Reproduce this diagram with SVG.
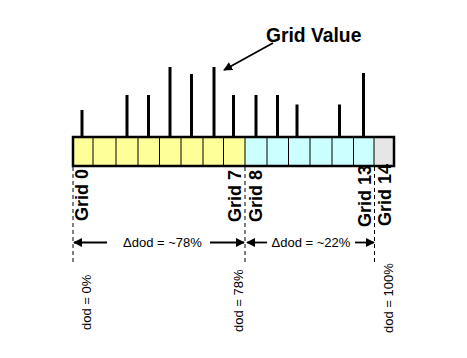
<svg xmlns="http://www.w3.org/2000/svg" width="467" height="358" viewBox="0 0 467 358">
<defs>
<style>
.bold{font-family:"Liberation Sans",Arial,sans-serif;font-weight:bold;font-size:18px;fill:#000}
.norm{font-family:"Liberation Sans",Arial,sans-serif;font-size:13px;fill:#000}
.spike{stroke:#000;stroke-width:3}
.cell{stroke:#000;stroke-width:1}
.dash{stroke:#000;stroke-width:1;stroke-dasharray:4 3;fill:none}
.arr{stroke:#000;stroke-width:1.8;fill:none}
</style>
<marker id="ah" viewBox="0 0 10 10" refX="9" refY="5" markerWidth="5" markerHeight="5" orient="auto" markerUnits="strokeWidth">
<path d="M0,0 L10,5 L0,10 z" fill="#000"/>
</marker>
</defs>
<rect width="467" height="358" fill="#fff"/>
<g id="spikes">
<line class="spike" x1="82" y1="110" x2="82" y2="137"/>
<line class="spike" x1="127" y1="95" x2="127" y2="137"/>
<line class="spike" x1="148.5" y1="95" x2="148.5" y2="137"/>
<line class="spike" x1="170" y1="67" x2="170" y2="137"/>
<line class="spike" x1="191.5" y1="74" x2="191.5" y2="137"/>
<line class="spike" x1="214" y1="67" x2="214" y2="137"/>
<line class="spike" x1="233.5" y1="95" x2="233.5" y2="137"/>
<line class="spike" x1="256" y1="95" x2="256" y2="137"/>
<line class="spike" x1="277.5" y1="95" x2="277.5" y2="137"/>
<line class="spike" x1="297" y1="104.5" x2="297" y2="137"/>
<line class="spike" x1="339.5" y1="104.5" x2="339.5" y2="137"/>
<line class="spike" x1="363.5" y1="73" x2="363.5" y2="137"/>
</g>
<g id="bar">
<rect x="73" y="137" width="172" height="29" fill="#FFFF99"/>
<rect x="245" y="137" width="129" height="29" fill="#CCFFFF"/>
<rect x="374" y="137" width="20" height="29" fill="#E6E6E6"/>
<g class="cell">
<line x1="93" y1="137" x2="93" y2="166"/>
<line x1="116" y1="137" x2="116" y2="166"/>
<line x1="138" y1="137" x2="138" y2="166"/>
<line x1="159.5" y1="137" x2="159.5" y2="166"/>
<line x1="181" y1="137" x2="181" y2="166"/>
<line x1="203" y1="137" x2="203" y2="166"/>
<line x1="223.5" y1="137" x2="223.5" y2="166"/>
<line x1="245" y1="137" x2="245" y2="166"/>
<line x1="267" y1="137" x2="267" y2="166"/>
<line x1="288.5" y1="137" x2="288.5" y2="166"/>
<line x1="310" y1="137" x2="310" y2="166"/>
<line x1="332" y1="137" x2="332" y2="166"/>
<line x1="353.5" y1="137" x2="353.5" y2="166"/>
<line x1="374" y1="137" x2="374" y2="166"/>
</g>
<rect x="73" y="137" width="321" height="29" fill="none" stroke="#000" stroke-width="2.5"/>
</g>
<g id="grid-value">
<text class="bold" x="266" y="42" style="font-size:19.3px">Grid Value</text>
</g>
<g id="grid-labels">
<text class="bold" transform="translate(88,221) rotate(-90)">Grid 0</text>
<text class="bold" transform="translate(241,222) rotate(-90)">Grid 7</text>
<text class="bold" transform="translate(262,222) rotate(-90)">Grid 8</text>
<text class="bold" transform="translate(371,227) rotate(-90)">Grid 13</text>
<text class="bold" transform="translate(391,226) rotate(-90)">Grid 14</text>
</g>
<g id="dod-labels">
<text class="norm" transform="translate(91,330) rotate(-90)">dod = 0%</text>
<text class="norm" transform="translate(243,332) rotate(-90)">dod = 78%</text>
<text class="norm" transform="translate(393,333) rotate(-90)">dod = 100%</text>
</g>
<g id="delta-labels">
<text class="norm" x="162.5" y="246.5" text-anchor="middle">Δdod = ~78%</text>
<text class="norm" x="311" y="246.5" text-anchor="middle">Δdod = ~22%</text>
</g>
<g id="connectors">
<line class="arr" x1="273" y1="43" x2="224" y2="70" marker-end="url(#ah)"/>
<line class="dash" x1="73" y1="167" x2="73" y2="264"/>
<line class="dash" x1="245" y1="167" x2="245" y2="265"/>
<line class="dash" x1="374.5" y1="167" x2="374.5" y2="264"/>
<line class="arr" x1="107" y1="242.5" x2="74" y2="242.5" marker-end="url(#ah)"/>
<line class="arr" x1="210" y1="242.5" x2="244" y2="242.5" marker-end="url(#ah)"/>
<line class="arr" x1="267" y1="242.5" x2="247" y2="242.5" marker-end="url(#ah)"/>
<line class="arr" x1="355" y1="242.5" x2="374" y2="242.5" marker-end="url(#ah)"/>
</g>
</svg>
